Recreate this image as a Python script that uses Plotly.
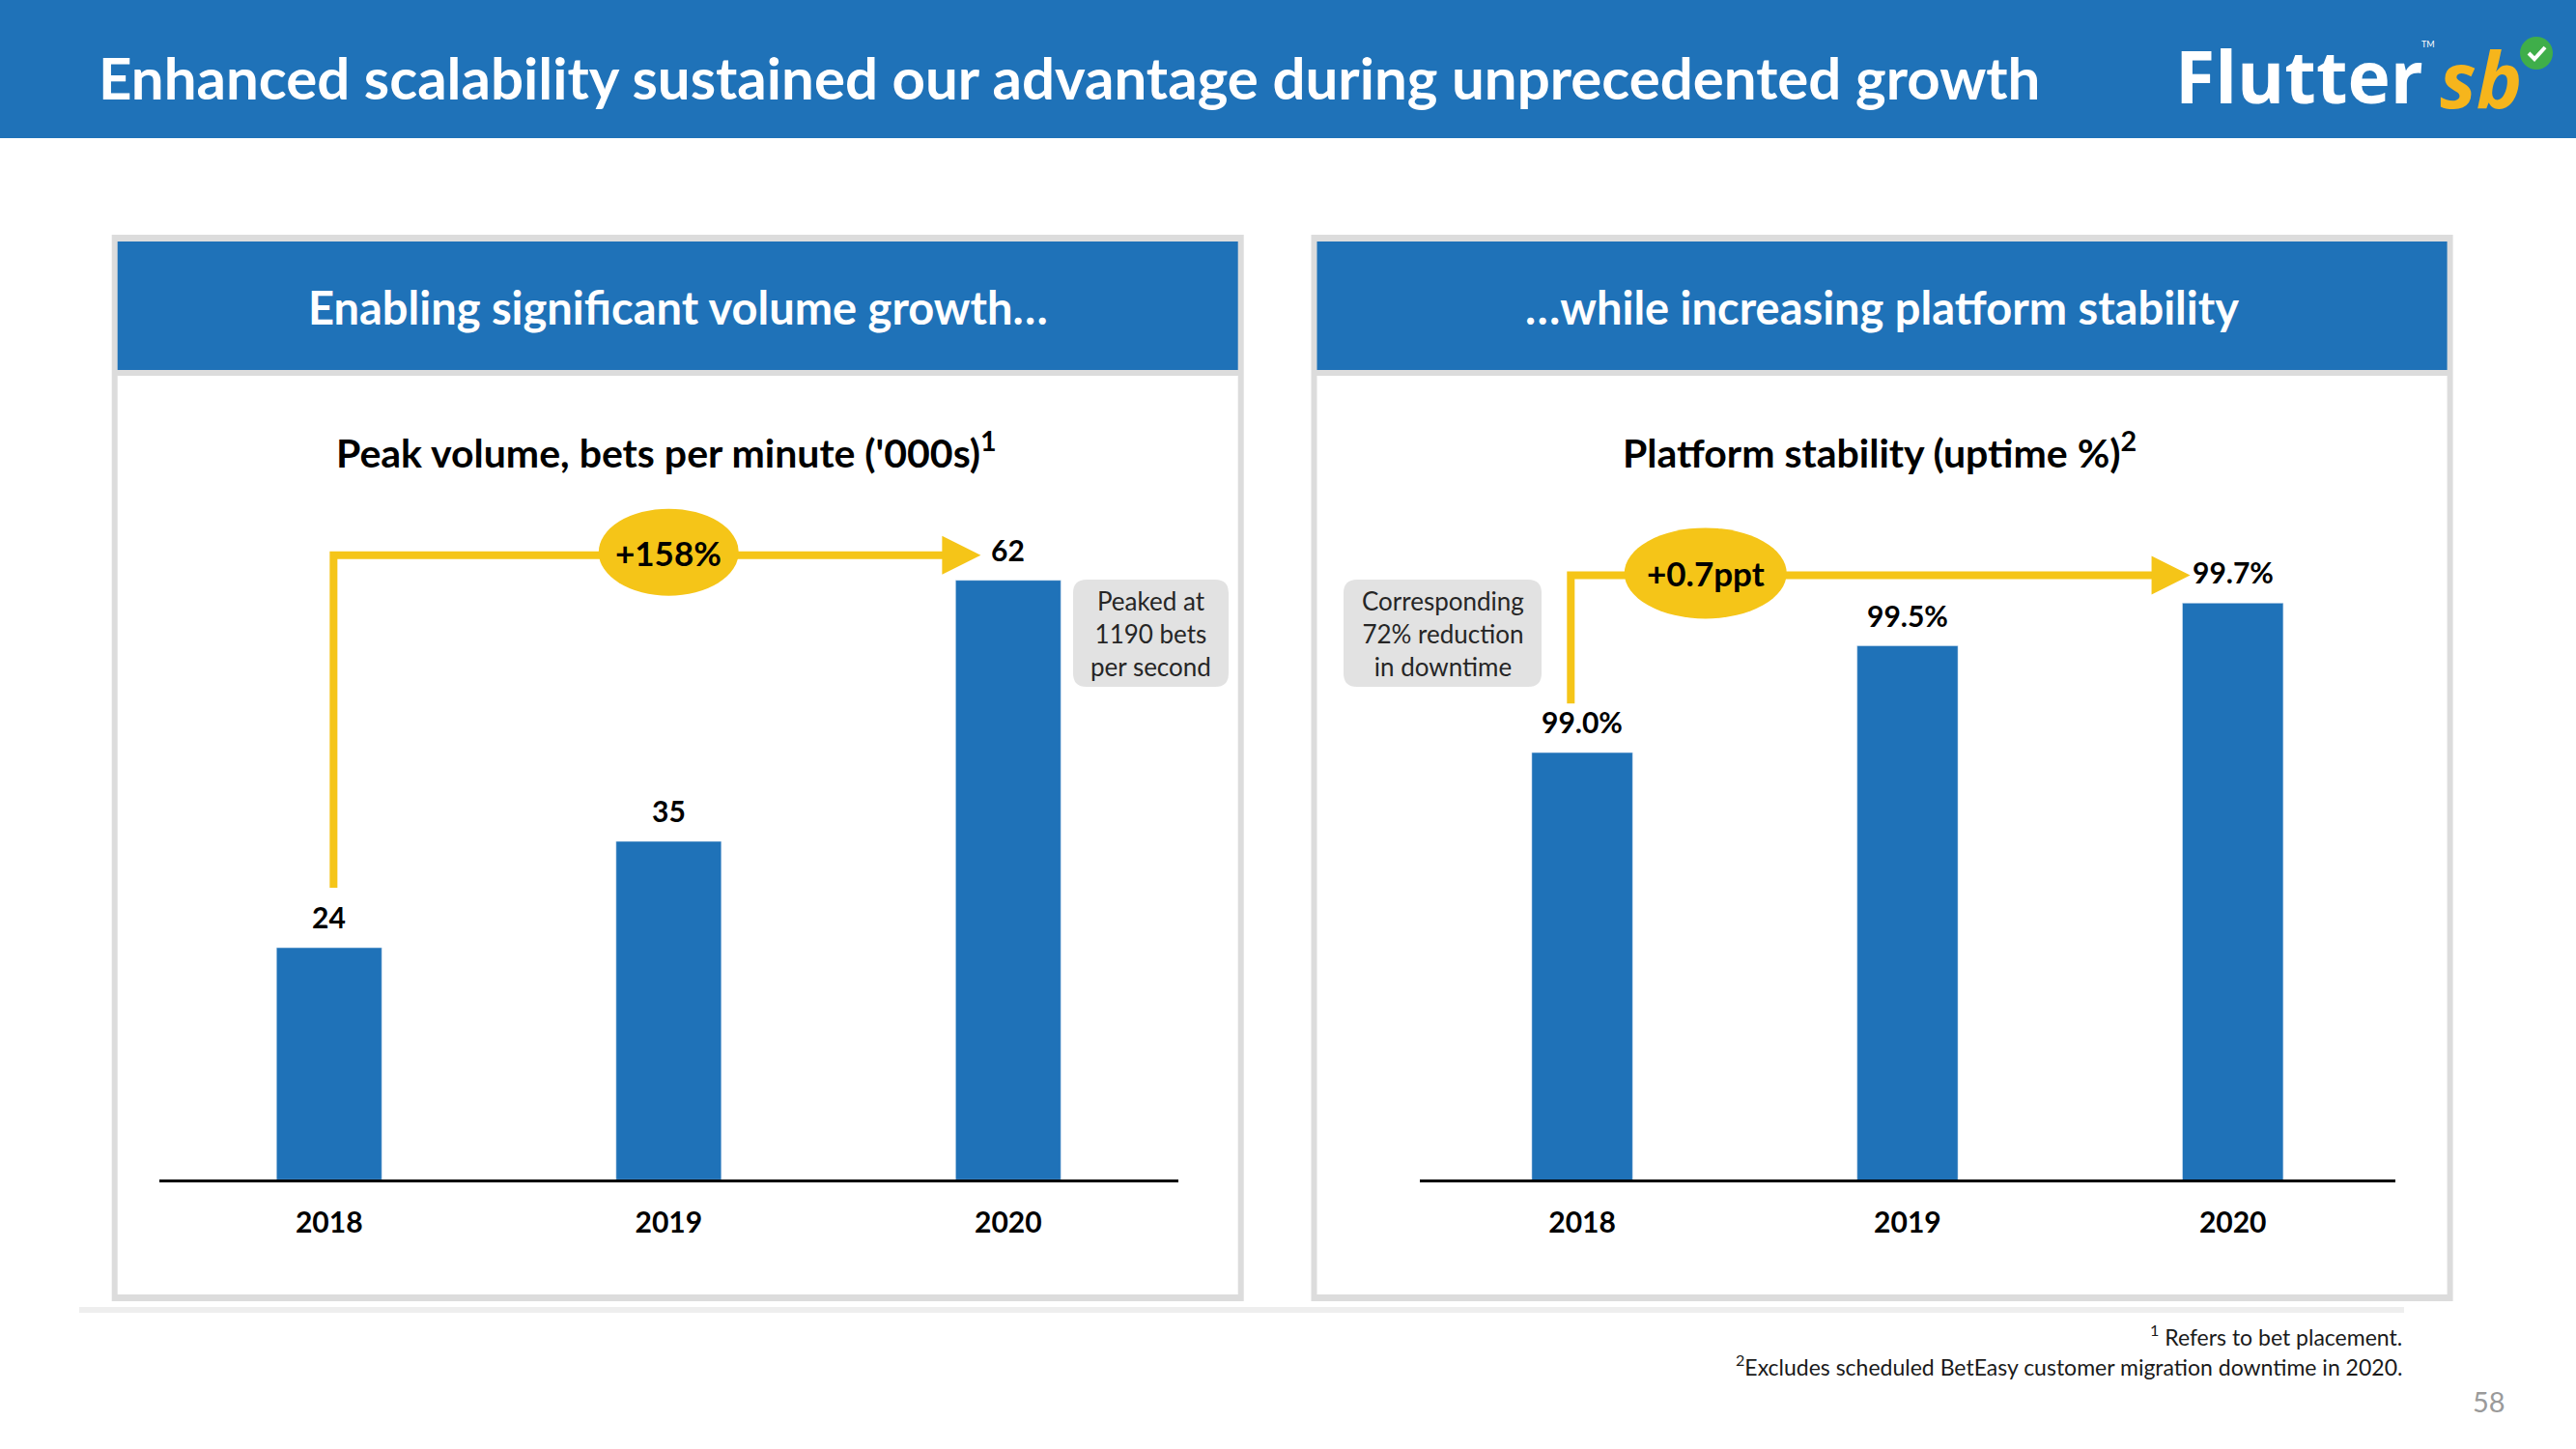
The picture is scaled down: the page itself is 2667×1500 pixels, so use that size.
import plotly.graph_objects as go

# ---------------- data ----------------
years = ["2018", "2019", "2020"]
volume = [24, 35, 62]
volume_labels = ["24", "35", "62"]
uptime = [99.0, 99.5, 99.7]
uptime_labels = ["99.0%", "99.5%", "99.7%"]
volume_growth = "+158%"
uptime_growth = "+0.7ppt"
volume_note = "Peaked at<br>1190 bets<br>per second"
uptime_note = "Corresponding<br>72% reduction<br>in downtime"

# ---------------- layout helpers ----------------
W, H = 2667, 1500
def px(x): return x / W
def py(y): return 1 - y / H

BLUE = "#1F72B8"
YELLOW = "#F5C518"
BORDER = "#DCDCDC"
FONT = "Lato"

xpos = list(range(len(years)))

base_px = 1221.3
left_range = [0, 76]
left_ppu = 10.01
right_range = [97, 100.4]
right_ppu = 221.1
ybot = py(base_px)
ytop_l = py(base_px - (left_range[1] - left_range[0]) * left_ppu)
ytop_r = py(base_px - (right_range[1] - right_range[0]) * right_ppu)

fig = go.Figure()
fig.add_trace(go.Bar(x=xpos, y=volume, width=0.31, marker_color=BLUE,
                     xaxis="x", yaxis="y", hoverinfo="skip", showlegend=False))
fig.add_trace(go.Bar(x=xpos, y=uptime, width=0.31, marker_color=BLUE,
                     xaxis="x2", yaxis="y2", hoverinfo="skip", showlegend=False))

axis_common = dict(tickvals=xpos, ticktext=[f"<b>{y}</b>" for y in years],
                   tickfont=dict(family=FONT, size=30, color="black"),
                   showgrid=False, zeroline=False, showline=True, linecolor="black",
                   linewidth=2.5, range=[-0.5, 2.5], ticks="", ticklabelstandoff=16,
                   fixedrange=True)

shapes = []
annotations = []

# header band
shapes.append(dict(type="rect", xref="paper", yref="paper", x0=0, x1=1, y0=py(143), y1=1,
                   fillcolor=BLUE, line_width=0, layer="below"))
annotations.append(dict(xref="paper", yref="paper", x=px(100), y=py(80), xanchor="left", yanchor="middle",
                        text="<b>Enhanced scalability sustained our advantage during unprecedented growth</b>",
                        showarrow=False, font=dict(family=FONT, size=60, color="white")))

# logo
annotations.append(dict(xref="paper", yref="paper", x=px(2250), y=py(78), xanchor="left", yanchor="middle",
                        text="<b>Flutter</b>", showarrow=False,
                        font=dict(family="Open Sans", size=75, color="white")))
annotations.append(dict(xref="paper", yref="paper", x=px(2514), y=py(46), xanchor="center", yanchor="middle",
                        text="TM", showarrow=False, font=dict(family=FONT, size=9, color="white")))
annotations.append(dict(xref="paper", yref="paper", x=px(2524), y=py(80), xanchor="left", yanchor="middle",
                        text="<b><i>sb</i></b>", showarrow=False,
                        font=dict(family="Open Sans", size=80, color="#F6B51C")))
shapes.append(dict(type="circle", xref="paper", yref="paper", xsizemode="pixel", ysizemode="pixel",
                   xanchor=px(2626), yanchor=py(55), x0=-17, x1=17, y0=-17, y1=17,
                   fillcolor="#3FAE4A", line_width=0))
shapes.append(dict(type="path", xref="paper", yref="paper", xsizemode="pixel", ysizemode="pixel",
                   xanchor=px(2626), yanchor=py(55), path="M -8,0 L -2,-6 L 9,6",
                   line=dict(color="white", width=4)))

# panels
panels = [(115.7, 1287.7, "Enabling significant volume growth…", "Peak volume, bets per minute ('000s)<sup>1</sup>", 690),
          (1357.5, 2539.6, "…while increasing platform stability", "Platform stability (uptime %)<sup>2</sup>", 1946)]
for x0, x1, head, sub, subx in panels:
    shapes.append(dict(type="rect", xref="paper", yref="paper", x0=px(x0), x1=px(x1), y0=py(1347), y1=py(243),
                       fillcolor=BORDER, line_width=0, layer="below"))
    shapes.append(dict(type="rect", xref="paper", yref="paper", x0=px(x0 + 6), x1=px(x1 - 6), y0=py(383), y1=py(250),
                       fillcolor=BLUE, line_width=0, layer="below"))
    shapes.append(dict(type="rect", xref="paper", yref="paper", x0=px(x0 + 6), x1=px(x1 - 6), y0=py(1340), y1=py(389),
                       fillcolor="white", line_width=0, layer="below"))
    annotations.append(dict(xref="paper", yref="paper", x=px((x0 + x1) / 2), y=py(318), xanchor="center",
                            yanchor="middle", text=f"<b>{head}</b>", showarrow=False,
                            font=dict(family=FONT, size=47, color="white")))
    annotations.append(dict(xref="paper", yref="paper", x=px(subx), y=py(466), xanchor="center",
                            yanchor="middle", text=f"<b>{sub}</b>", showarrow=False,
                            font=dict(family=FONT, size=41, color="black")))

# bottom rule
shapes.append(dict(type="rect", xref="paper", yref="paper", x0=px(82), x1=px(2489), y0=py(1359), y1=py(1353),
                   fillcolor="#EEEEEE", line_width=0, layer="below"))

# value labels
for i, (v, t) in enumerate(zip(volume, volume_labels)):
    annotations.append(dict(xref="x", yref="y", x=i, y=v, yanchor="bottom", yshift=12, text=f"<b>{t}</b>",
                            showarrow=False, font=dict(family=FONT, size=30, color="black")))
for i, (v, t) in enumerate(zip(uptime, uptime_labels)):
    annotations.append(dict(xref="x2", yref="y2", x=i, y=v, yanchor="bottom", yshift=12, text=f"<b>{t}</b>",
                            showarrow=False, font=dict(family=FONT, size=30, color="black")))

# growth arrows
def growth_arrow(xr, yr, xv, y_start, y_arrow, x_tip, ell_x, ell_y, ell_w, ell_h, label):
    shapes.append(dict(type="path", xref=xr, yref=yr,
                       path=f"M {xv},{y_start} L {xv},{y_arrow} L {x_tip - 0.07},{y_arrow}",
                       line=dict(color=YELLOW, width=8)))
    shapes.append(dict(type="path", xref=xr, yref=yr, xsizemode="pixel", ysizemode="pixel",
                       xanchor=x_tip, yanchor=y_arrow, path="M -40,20 L 0,0 L -40,-20 Z",
                       fillcolor=YELLOW, line_width=0))
    shapes.append(dict(type="circle", xref=xr, yref=yr, xsizemode="pixel", ysizemode="pixel",
                       xanchor=ell_x, yanchor=ell_y, x0=-ell_w / 2, x1=ell_w / 2, y0=-ell_h / 2, y1=ell_h / 2,
                       fillcolor=YELLOW, line_width=0))
    annotations.append(dict(xref=xr, yref=yr, x=ell_x, y=ell_y, text=f"<b>{label}</b>", showarrow=False,
                            font=dict(family=FONT, size=35, color="black")))

growth_arrow("x", "y", 0.013, 30.2, 64.6, 1.919, 1.0, 64.9, 145, 90, volume_growth)
growth_arrow("x2", "y2", -0.035, 99.23, 99.83, 1.869, 0.379, 99.84, 168, 94, uptime_growth)

# callout boxes
def rounded_box(x0, x1, y0, y1, r=14):
    X0, X1 = px(x0), px(x1)
    Y0, Y1 = py(y1), py(y0)
    rx, ry = r / W, r / H
    path = (f"M {X0 + rx},{Y1} L {X1 - rx},{Y1} Q {X1},{Y1} {X1},{Y1 - ry} "
            f"L {X1},{Y0 + ry} Q {X1},{Y0} {X1 - rx},{Y0} L {X0 + rx},{Y0} Q {X0},{Y0} {X0},{Y0 + ry} "
            f"L {X0},{Y1 - ry} Q {X0},{Y1} {X0 + rx},{Y1} Z")
    shapes.append(dict(type="path", xref="paper", yref="paper", path=path, fillcolor="#E2E2E2", line_width=0))

rounded_box(1111, 1272, 600, 711)
annotations.append(dict(xref="paper", yref="paper", x=px(1191.5), y=py(656), text=volume_note, showarrow=False,
                        font=dict(family=FONT, size=26, color="#262626"), align="center"))
rounded_box(1391, 1596, 600, 711)
annotations.append(dict(xref="paper", yref="paper", x=px(1493.5), y=py(656), text=uptime_note, showarrow=False,
                        font=dict(family=FONT, size=26, color="#262626"), align="center"))

# footnotes
annotations.append(dict(xref="paper", yref="paper", x=px(2489), y=py(1382), xanchor="right", yanchor="middle",
                        text="<sup>1</sup> Refers to bet placement.", showarrow=False,
                        font=dict(family=FONT, size=23, color="#1a1a1a")))
annotations.append(dict(xref="paper", yref="paper", x=px(2489), y=py(1413), xanchor="right", yanchor="middle",
                        text="<sup>2</sup>Excludes scheduled BetEasy customer migration downtime in 2020.",
                        showarrow=False, font=dict(family=FONT, size=23, color="#1a1a1a")))
annotations.append(dict(xref="paper", yref="paper", x=px(2577), y=py(1450), xanchor="center", yanchor="middle",
                        text="58", showarrow=False, font=dict(family=FONT, size=29, color="#9A9A9A")))

fig.update_layout(
    width=W, height=H, margin=dict(l=0, r=0, t=0, b=0),
    paper_bgcolor="white", plot_bgcolor="rgba(0,0,0,0)",
    xaxis=dict(domain=[px(165), px(1219.6)], anchor="y", **axis_common),
    yaxis=dict(domain=[ybot, ytop_l], range=left_range, visible=False, fixedrange=True),
    xaxis2=dict(domain=[px(1469.7), px(2480.1)], anchor="y2", **axis_common),
    yaxis2=dict(domain=[ybot, ytop_r], range=right_range, visible=False, fixedrange=True),
    shapes=shapes, annotations=annotations, bargap=0.69,
)

fig.write_html("out.html", config={"displayModeBar": False},
               post_script="document.body.style.margin='0';document.body.style.padding='0';")
